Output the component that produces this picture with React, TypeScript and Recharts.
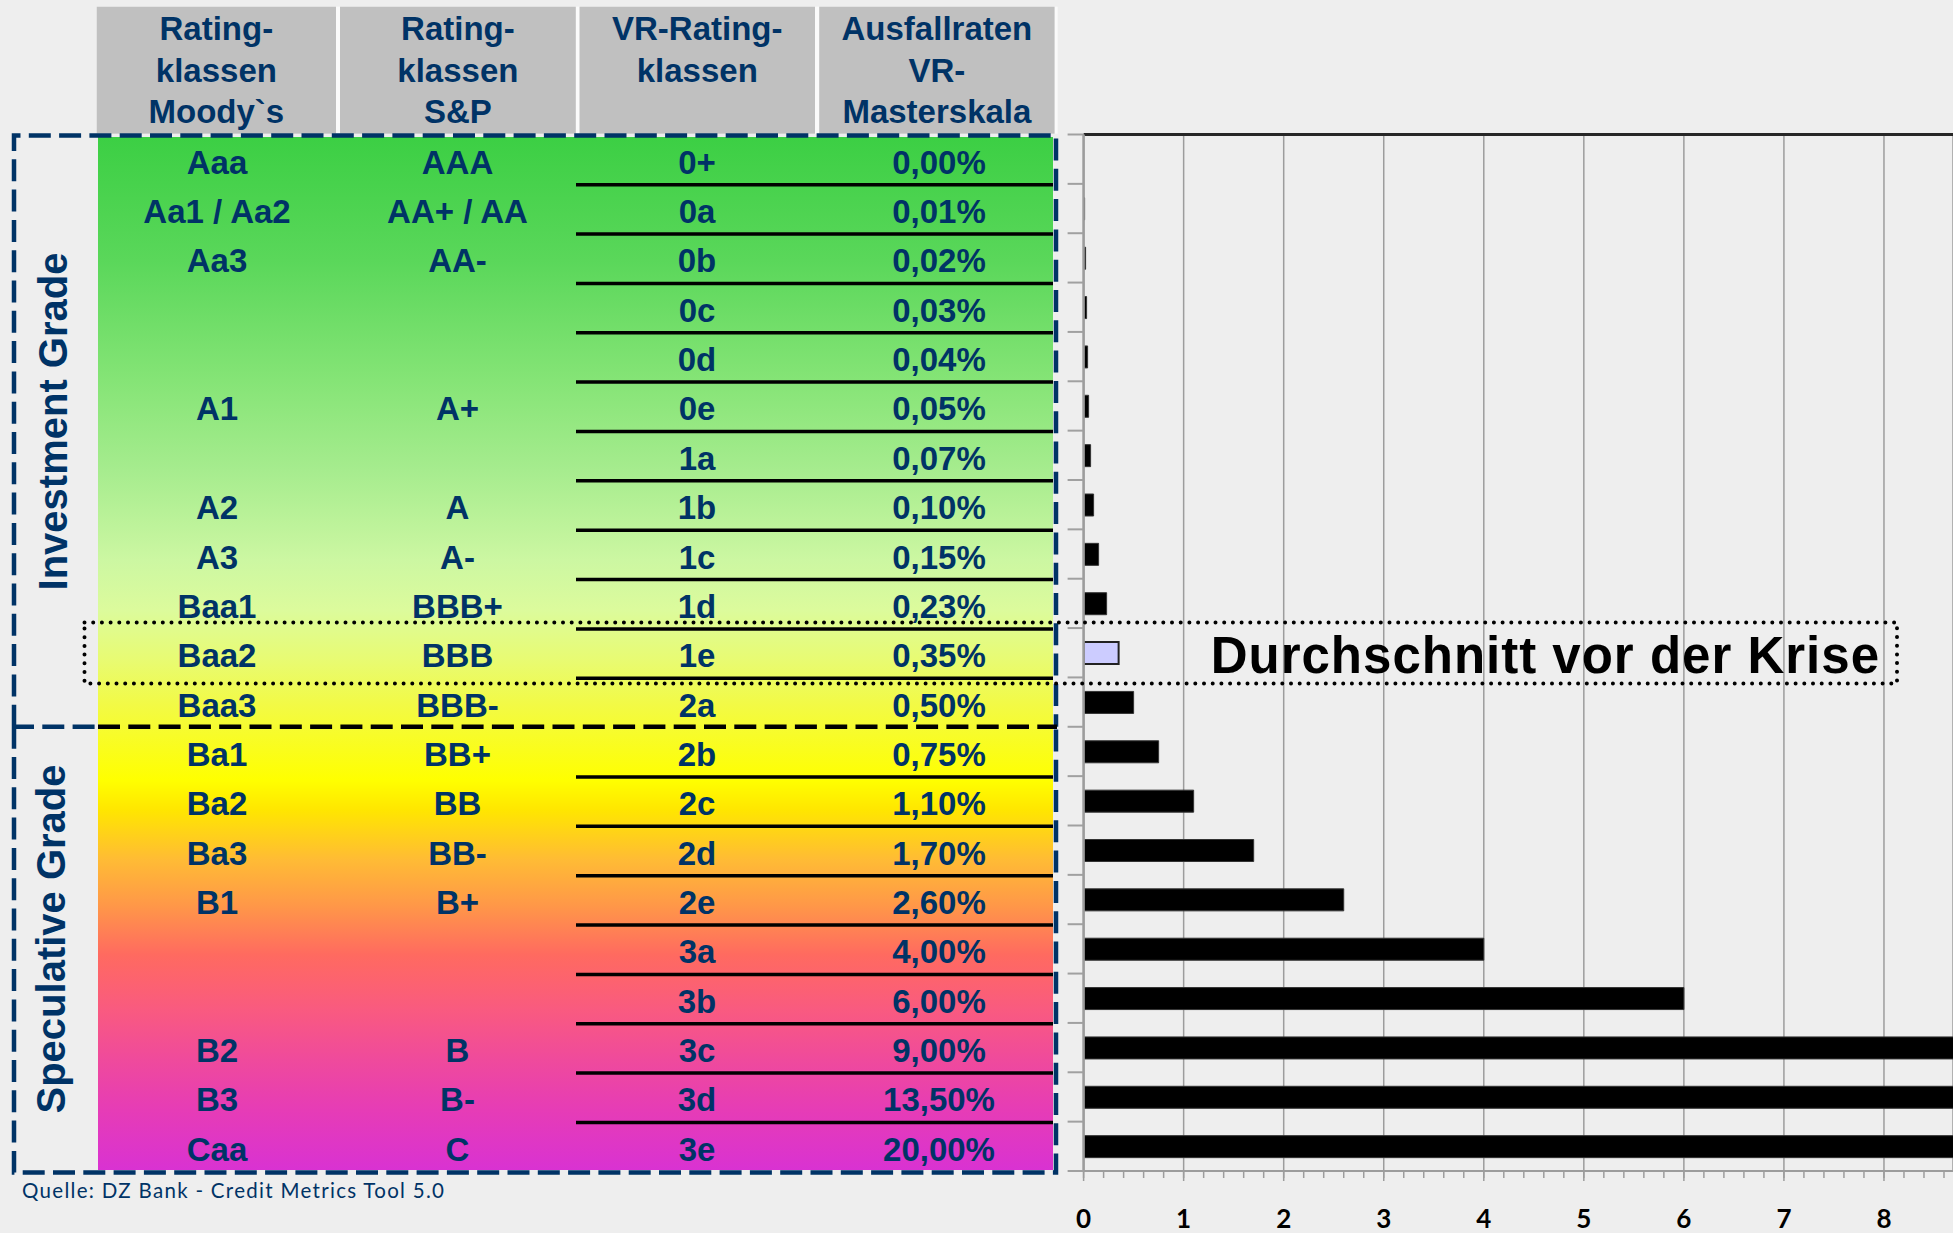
import React from 'react';
import { BarChart, Bar, XAxis, YAxis, CartesianGrid, Cell } from 'recharts';

// ---------- data ----------
const vrClasses = ['0+', '0a', '0b', '0c', '0d', '0e', '1a', '1b', '1c', '1d', '1e', '2a', '2b', '2c', '2d', '2e', '3a', '3b', '3c', '3d', '3e'];
const moodysClasses = ['Aaa', 'Aa1 / Aa2', 'Aa3', '', '', 'A1', '', 'A2', 'A3', 'Baa1', 'Baa2', 'Baa3', 'Ba1', 'Ba2', 'Ba3', 'B1', '', '', 'B2', 'B3', 'Caa'];
const spClasses = ['AAA', 'AA+ / AA', 'AA-', '', '', 'A+', '', 'A', 'A-', 'BBB+', 'BBB', 'BBB-', 'BB+', 'BB', 'BB-', 'B+', '', '', 'B', 'B-', 'C'];
const defaultRates = [0.0, 0.01, 0.02, 0.03, 0.04, 0.05, 0.07, 0.1, 0.15, 0.23, 0.35, 0.5, 0.75, 1.1, 1.7, 2.6, 4.0, 6.0, 9.0, 13.5, 20.0];
const rateLabels = ['0,00%', '0,01%', '0,02%', '0,03%', '0,04%', '0,05%', '0,07%', '0,10%', '0,15%', '0,23%', '0,35%', '0,50%', '0,75%', '1,10%', '1,70%', '2,60%', '4,00%', '6,00%', '9,00%', '13,50%', '20,00%'];
const highlightClass = '1e';
const lastInvestmentClass = '2a';

const headerMoodys = ['Rating-', 'klassen', 'Moody`s'];
const headerSP = ['Rating-', 'klassen', 'S&P'];
const headerVR = ['VR-Rating-', 'klassen'];
const headerRate = ['Ausfallraten', 'VR-', 'Masterskala'];

const xTicks = [0, 1, 2, 3, 4, 5, 6, 7, 8];
const xMinorTicks = [0, 0.2, 0.4, 0.6, 0.8, 1, 1.2, 1.4, 1.6, 1.8, 2, 2.2, 2.4, 2.6, 2.8, 3, 3.2, 3.4, 3.6, 3.8, 4, 4.2, 4.4, 4.6, 4.8, 5, 5.2, 5.4, 5.6, 5.8, 6, 6.2, 6.4, 6.6, 6.8, 7, 7.2, 7.4, 7.6, 7.8, 8, 8.2, 8.4, 8.6];
const AXIS_MAX = 8.69;

const investmentLabel = 'Investment Grade';
const speculativeLabel = 'Speculative Grade';
const annotationText = 'Durchschnitt vor der Krise';
const sourceText = 'Quelle: DZ Bank - Credit Metrics Tool 5.0';

const data = vrClasses.map((vr, i) => ({ vr, rate: defaultRates[i] }));

// ---------- style ----------
const NAVY = '#003366';
const TABLE_FONT = "'Liberation Sans', Arial, sans-serif";
const HALF_BAND = 24.68;
const DASH = '22 8.3';

const gradientStops: [number, string][] = [
  [137, '#3ccf44'],
  [260, '#5ad75a'],
  [380, '#85e476'],
  [470, '#a6ec8e'],
  [560, '#ccf7a2'],
  [610, '#dcfb9c'],
  [660, '#e8fb72'],
  [705, '#f2fa45'],
  [780, '#ffff00'],
  [810, '#ffe600'],
  [860, '#ffbb35'],
  [905, '#ff9848'],
  [955, '#ff6a60'],
  [1010, '#f95a80'],
  [1060, '#ef4a9c'],
  [1110, '#e63cb6'],
  [1170, '#d932d2'],
];

const textStyle = {
  fontFamily: TABLE_FONT,
  fontWeight: 700,
  fontSize: 33,
  fill: NAVY,
};

const colCenters = [217, 457.5, 697, 939];

const TableTick = (props: any) => {
  const { x, y, payload } = props;
  const i = vrClasses.indexOf(payload.value);
  if (i < 0) return null;
  const ty = y + 14.5;
  const last = i === vrClasses.length - 1;
  const vals = [moodysClasses[i], spClasses[i], vrClasses[i], rateLabels[i]];
  return (
    <g>
      <line x1={x - 16} x2={x} y1={y - HALF_BAND} y2={y - HALF_BAND} stroke="#a0a0a0" strokeWidth={2} />
      {last && <line x1={x - 16} x2={x} y1={y + HALF_BAND} y2={y + HALF_BAND} stroke="#a0a0a0" strokeWidth={2} />}
      {vals.map((v, c) =>
        v ? (
          <text key={c} x={colCenters[c]} y={ty} textAnchor="middle" style={textStyle}>
            {v}
          </text>
        ) : null
      )}
      {vrClasses[i] === lastInvestmentClass ? (
        <line x1={98} x2={1057} y1={y + 24.6} y2={y + 24.6} stroke="#000" strokeWidth={4.5} strokeDasharray={DASH} />
      ) : !last ? (
        <line x1={576} x2={1053} y1={y + 25.5} y2={y + 25.5} stroke="#000" strokeWidth={3.5} />
      ) : null}
    </g>
  );
};

const Background = () => {
  const headerCells: [number, number][] = [
    [96.7, 336],
    [340, 575.8],
    [579.5, 815],
    [819.2, 1054.6],
  ];
  const headers = [headerMoodys, headerSP, headerVR, headerRate];
  const lineY = [40, 82, 123];
  return (
    <svg width={1953} height={1233} style={{ position: 'absolute', left: 0, top: 0 }}>
      <defs>
        <linearGradient id="tableGrad" gradientUnits="userSpaceOnUse" x1={0} y1={137} x2={0} y2={1170}>
          {gradientStops.map(([yy, col], k) => (
            <stop key={k} offset={(yy - 137) / (1170 - 137)} stopColor={col} />
          ))}
        </linearGradient>
      </defs>
      <rect x={96.7} y={6.7} width={961} height={127} fill="#fafafa" />
      {headerCells.map(([a, b], c) => (
        <g key={c}>
          <rect x={a} y={6.7} width={b - a} height={127} fill="#c0c0c0" />
          {headers[c].map((t, r) => (
            <text key={r} x={(a + b) / 2} y={lineY[r]} textAnchor="middle" style={textStyle}>
              {t}
            </text>
          ))}
        </g>
      ))}
      <rect x={98} y={137} width={955} height={1033} fill="url(#tableGrad)" />
      {/* Investment grade box: left, top, right */}
      <path d="M14 726.7 V135.5 H1056 V726.7" fill="none" stroke={NAVY} strokeWidth={4.5} strokeDasharray={DASH} />
      {/* Speculative grade box: left, bottom, right */}
      <path d="M14 726.7 V1172.5 H1056 V726.7" fill="none" stroke={NAVY} strokeWidth={4.5} strokeDasharray={DASH} />
      {/* shared separator (navy part outside the table) */}
      <line x1={12} x2={98} y1={726.7} y2={726.7} stroke={NAVY} strokeWidth={4.5} strokeDasharray={DASH} />
      <text
        transform="translate(66.5 421.5) rotate(-90)"
        textAnchor="middle"
        style={{ fontFamily: TABLE_FONT, fontWeight: 700, fontSize: 40, fill: NAVY }}
      >
        {investmentLabel}
      </text>
      <text
        transform="translate(65 939) rotate(-90)"
        textAnchor="middle"
        style={{ fontFamily: TABLE_FONT, fontWeight: 700, fontSize: 40, fill: NAVY }}
      >
        {speculativeLabel}
      </text>
      <text x={22} y={1198} style={{ fontFamily: 'Lato, sans-serif', fontSize: 20.5, fill: NAVY, letterSpacing: 1.3 }}>
        {sourceText}
      </text>
    </svg>
  );
};

const Overlay = () => (
  <svg width={1953} height={1233} style={{ position: 'absolute', left: 0, top: 0, pointerEvents: 'none' }}>
    <rect
      x={84.5}
      y={622.5}
      width={1812.5}
      height={61}
      fill="none"
      stroke="#000"
      strokeWidth={4}
      strokeDasharray="0 8.7"
      strokeLinecap="round"
    />
    <text
      x={1880}
      y={673}
      textAnchor="end"
      style={{ fontFamily: TABLE_FONT, fontWeight: 700, fontSize: 51, fill: '#000', letterSpacing: 1 }}
    >
      {annotationText}
    </text>
  </svg>
);

export default function App() {
  return (
    <div style={{ position: 'relative', width: 1953, height: 1233, overflow: 'hidden', background: '#eeeeee' }}>
      <style>{'body{margin:0;background:#eeeeee;}'}</style>
      <Background />
      <div style={{ position: 'absolute', left: 0, top: 0 }}>
        <BarChart
          width={1953}
          height={1233}
          data={data}
          layout="vertical"
          margin={{ top: 133.5, right: 0, bottom: 60, left: 0 }}
        >
          <CartesianGrid horizontal={false} stroke="#9c9c9c" strokeWidth={1.5} />
          <XAxis
            xAxisId="minor"
            type="number"
            orientation="bottom"
            domain={[0, AXIS_MAX]}
            ticks={xMinorTicks}
            interval={0}
            height={1}
            axisLine={false}
            tickLine={{ stroke: '#9c9c9c', strokeWidth: 1.5 }}
            tickSize={6}
            tickFormatter={() => ''}
            allowDataOverflow
          />
          <XAxis
            type="number"
            orientation="bottom"
            domain={[0, AXIS_MAX]}
            ticks={xTicks}
            interval={0}
            height={1}
            tickSize={10}
            tickMargin={29}
            axisLine={{ stroke: '#9c9c9c', strokeWidth: 2 }}
            tickLine={{ stroke: '#9c9c9c', strokeWidth: 1.5 }}
            tick={{ fontFamily: 'Lato, sans-serif', fontWeight: 700, fontSize: 26, fill: '#000' }}
            allowDataOverflow
          />
          <XAxis
            xAxisId="top"
            type="number"
            orientation="top"
            domain={[0, AXIS_MAX]}
            height={1}
            tick={false}
            tickLine={false}
            axisLine={{ stroke: '#262626', strokeWidth: 3 }}
            allowDataOverflow
          />
          <YAxis
            type="category"
            dataKey="vr"
            width={1083.6}
            interval={0}
            axisLine={{ stroke: '#9c9c9c', strokeWidth: 2.5 }}
            tickLine={false}
            tickSize={0}
            tickMargin={0}
            tick={<TableTick />}
          />
          <Bar dataKey="rate" barSize={22} isAnimationActive={false}>
            {data.map((d, i) => (
              <Cell
                key={i}
                fill={d.vr === highlightClass ? '#ccccff' : '#000'}
                stroke={d.vr === highlightClass ? '#222' : '#333'}
                strokeWidth={d.vr === highlightClass ? 2 : 1}
              />
            ))}
          </Bar>
        </BarChart>
      </div>
      <Overlay />
    </div>
  );
}
